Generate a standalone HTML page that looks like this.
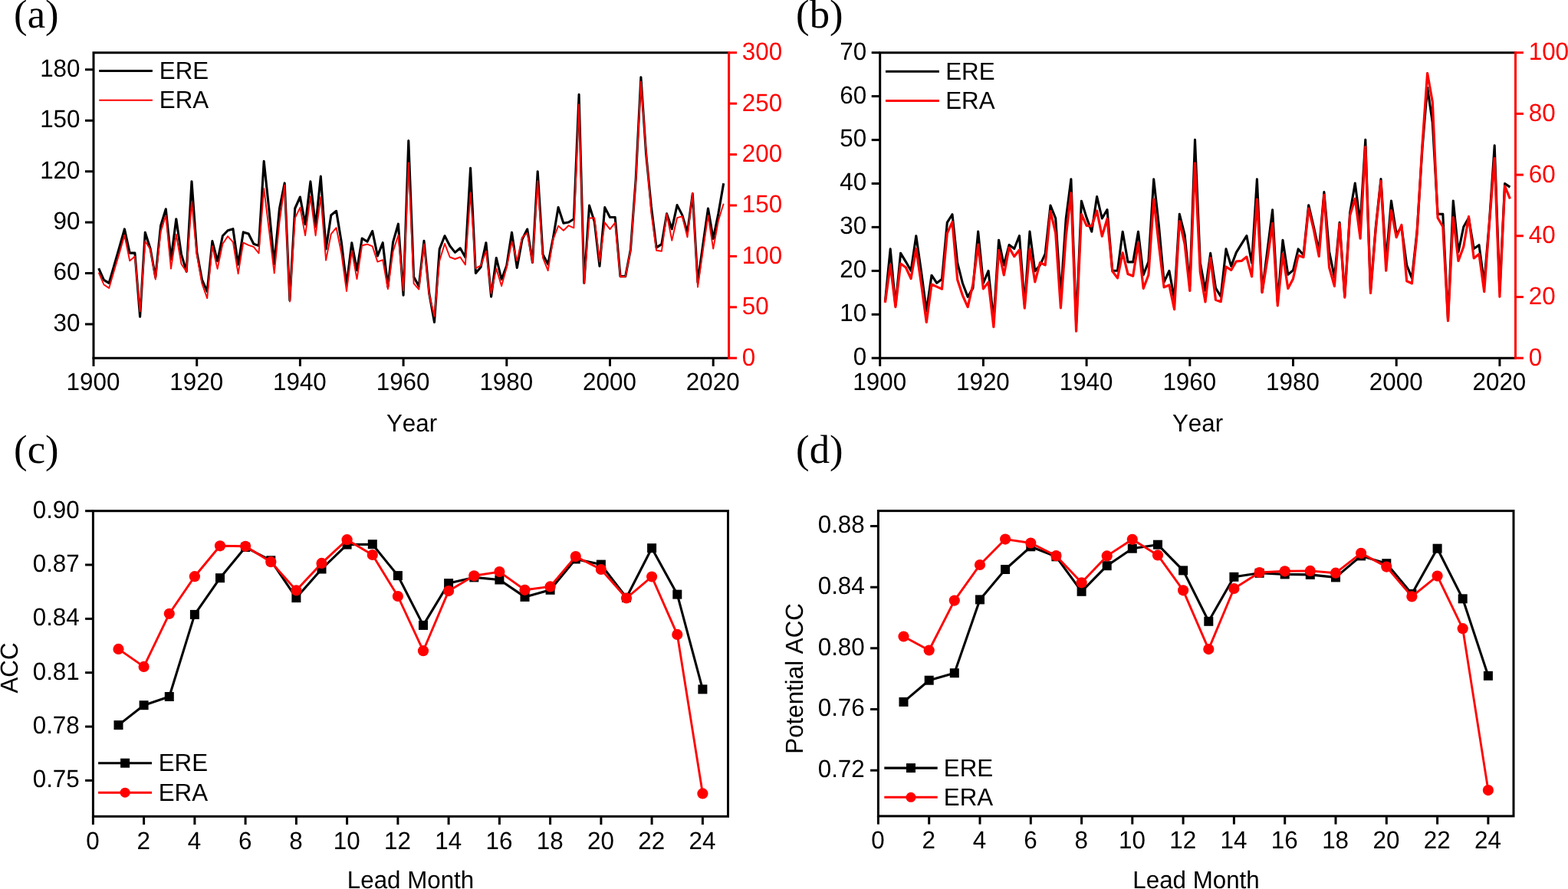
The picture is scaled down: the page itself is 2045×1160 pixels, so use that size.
<!DOCTYPE html>
<html lang="en">
<head>
<meta charset="utf-8">
<title>ERE and ERA time series and ACC skill by lead month</title>
<style>
html,body{margin:0;padding:0;background:#fff;}
body{width:2045px;height:1160px;overflow:hidden;}
svg{display:block;}
text{font-kerning:none;text-rendering:geometricPrecision;}
.t{font-family:"Liberation Sans",Arial,Helvetica,sans-serif;font-size:31.4px;}
.u{font-family:"Liberation Sans",Arial,Helvetica,sans-serif;font-size:31.3px;}
.p{font-family:"Liberation Serif","Times New Roman",Times,serif;font-size:52.7px;}
</style>
</head>
<body>
<svg width="2045" height="1160" viewBox="0 0 2045 1160">
<rect width="2045" height="1160" fill="#fff"/>
<g id="panel-a">
<polyline points="128.7,350.2 135.5,365.3 142.2,369.3 148.9,346.1 155.7,322.8 162.4,298.9 169.2,330.1 175.9,330.1 182.6,413.3 189.3,303.3 196.1,324.5 202.8,361.9 209.6,294.5 216.3,272.8 223,338.5 229.8,285.7 236.5,331.9 243.2,354.3 250,236.7 256.7,328.9 263.4,364.9 270.2,380.3 276.9,314.6 283.6,340.7 290.4,307.8 297.1,300.8 303.9,298.7 310.6,345.1 317.3,302.9 324.1,305 330.8,318.3 337.5,320.6 344.2,210.4 351,274.5 357.7,344.5 364.5,272 371.2,238.9 377.9,392 384.7,272 391.4,257 398.1,292.7 404.9,236.9 411.6,295.7 418.3,230.1 425.1,324.9 431.8,280.8 438.6,275.3 445.3,315.9 452,372 458.8,316.8 465.5,352.7 472.2,311 479,315.3 485.7,301.5 492.4,333.9 499.2,316.7 505.9,374.3 512.6,315.9 519.4,292.2 526.1,385.3 532.8,183.6 539.6,361.2 546.3,373.5 553,314.2 559.8,383.3 566.5,420.4 573.2,325.1 580,307.8 586.7,320.8 593.5,329.4 600.2,323.8 606.9,335.7 613.6,219.4 620.4,356.4 627.1,348.4 633.9,316.7 640.6,387.1 647.3,336.5 654.1,364.5 660.8,346.5 667.5,303.2 674.3,349.4 681,312.4 687.7,299 694.5,342.4 701.2,223.7 708,332 714.7,344.8 721.4,310.5 728.1,270.6 734.9,291.2 741.6,290 748.4,285.7 755.1,123.4 761.8,369.3 768.6,268.1 775.3,289.4 782,347.3 788.8,270.6 795.5,283.5 802.2,283.5 809,360.6 815.7,360.6 822.4,325.8 829.2,234 835.9,100.7 842.6,200.5 849.4,270 856.1,323.1 862.9,318.6 869.6,278.9 876.3,298.8 883.1,267.6 889.8,280.6 896.5,303.4 903.3,252.9 910,368.5 916.7,320 923.5,272 930.2,311.4 936.9,278.6 943.7,239.3" fill="none" stroke="#000" stroke-width="3.1" stroke-linejoin="round"/>
<polyline points="128.7,355.6 135.5,371.5 142.2,375.9 148.9,353.2 155.7,330.4 162.4,307 169.2,340.4 175.9,334.5 182.6,406.4 189.3,314.8 196.1,325.3 202.8,364.6 209.6,302.5 216.3,281.3 223,350.6 229.8,306 236.5,344.4 243.2,354.6 250,263.6 256.7,331.9 263.4,370 270.2,389.1 276.9,321.2 283.6,350.9 290.4,318.3 297.1,308.3 303.9,315.8 310.6,357.2 317.3,316.6 324.1,319.9 330.8,322.2 337.5,330.5 344.2,245.9 351,301.2 357.7,356.5 364.5,290 371.2,241.6 377.9,393.5 384.7,284.6 391.4,270.9 398.1,307.4 404.9,256.3 411.6,307.5 418.3,256.9 425.1,339.6 431.8,305.3 438.6,297.2 445.3,330.6 452,380 458.8,327.3 465.5,364.1 472.2,320.2 479,318.7 485.7,321.4 492.4,341.6 499.2,339.2 505.9,377.2 512.6,328.2 519.4,307 526.1,379.1 532.8,212.4 539.6,369.8 546.3,377.6 553,318.5 559.8,384.5 566.5,412.7 573.2,340.4 580,317.9 586.7,335.5 593.5,338 600.2,335.5 606.9,345.4 613.6,251.6 620.4,350 627.1,346.3 633.9,327.7 640.6,382.7 647.3,350.4 654.1,373.3 660.8,349 667.5,315.2 674.3,340.2 681,309.7 687.7,304 694.5,342.7 701.2,236.3 708,336.3 714.7,353.1 721.4,312.5 728.1,294.8 734.9,300.7 741.6,294.3 748.4,297.3 755.1,136.1 761.8,369.6 768.6,284.5 775.3,284.5 782,341.5 788.8,290.3 795.5,299.1 802.2,290.6 809,361.2 815.7,360.8 822.4,326.8 829.2,236 835.9,106.4 842.6,197.5 849.4,278 856.1,326.8 862.9,327.8 869.6,279.1 876.3,313.7 883.1,284.2 889.8,282.3 896.5,309.5 903.3,251.6 910,374.6 916.7,327.9 923.5,281.1 930.2,324.6 936.9,288 943.7,265.8" fill="none" stroke="#ff0000" stroke-width="1.9" stroke-linejoin="round"/>
<polyline points="122,467.2 122,68.7 950.6,68.7" fill="none" stroke="#000" stroke-width="3.0" stroke-linejoin="miter"/>
<line x1="120.5" y1="467.2" x2="950.6" y2="467.2" stroke="#000" stroke-width="3.0" stroke-linecap="butt"/>
<line x1="950.6" y1="67.2" x2="950.6" y2="468.8" stroke="#ff0000" stroke-width="3.0" stroke-linecap="butt"/>
<line x1="122" y1="467.2" x2="122" y2="477.9" stroke="#000" stroke-width="3.0" stroke-linecap="butt"/>
<text class="t" text-anchor="middle" transform="translate(121.5 509.45) scale(1 1.025)">1900</text>
<line x1="256.7" y1="467.2" x2="256.7" y2="477.9" stroke="#000" stroke-width="3.0" stroke-linecap="butt"/>
<text class="t" text-anchor="middle" transform="translate(256.2 509.45) scale(1 1.025)">1920</text>
<line x1="391.4" y1="467.2" x2="391.4" y2="477.9" stroke="#000" stroke-width="3.0" stroke-linecap="butt"/>
<text class="t" text-anchor="middle" transform="translate(390.9 509.45) scale(1 1.025)">1940</text>
<line x1="526.1" y1="467.2" x2="526.1" y2="477.9" stroke="#000" stroke-width="3.0" stroke-linecap="butt"/>
<text class="t" text-anchor="middle" transform="translate(525.6 509.45) scale(1 1.025)">1960</text>
<line x1="660.8" y1="467.2" x2="660.8" y2="477.9" stroke="#000" stroke-width="3.0" stroke-linecap="butt"/>
<text class="t" text-anchor="middle" transform="translate(660.3 509.45) scale(1 1.025)">1980</text>
<line x1="795.5" y1="467.2" x2="795.5" y2="477.9" stroke="#000" stroke-width="3.0" stroke-linecap="butt"/>
<text class="t" text-anchor="middle" transform="translate(795 509.45) scale(1 1.025)">2000</text>
<line x1="930.2" y1="467.2" x2="930.2" y2="477.9" stroke="#000" stroke-width="3.0" stroke-linecap="butt"/>
<text class="t" text-anchor="middle" transform="translate(929.7 509.45) scale(1 1.025)">2020</text>
<line x1="111" y1="423" x2="122" y2="423" stroke="#000" stroke-width="3.0" stroke-linecap="butt"/>
<text class="t" text-anchor="end" transform="translate(104.5 431.87) scale(1 1.025)">30</text>
<line x1="111" y1="356.5" x2="122" y2="356.5" stroke="#000" stroke-width="3.0" stroke-linecap="butt"/>
<text class="t" text-anchor="end" transform="translate(104.5 365.44) scale(1 1.025)">60</text>
<line x1="111" y1="290.1" x2="122" y2="290.1" stroke="#000" stroke-width="3.0" stroke-linecap="butt"/>
<text class="t" text-anchor="end" transform="translate(104.5 299.02) scale(1 1.025)">90</text>
<line x1="111" y1="223.7" x2="122" y2="223.7" stroke="#000" stroke-width="3.0" stroke-linecap="butt"/>
<text class="t" text-anchor="end" transform="translate(104.5 232.59) scale(1 1.025)">120</text>
<line x1="111" y1="157.3" x2="122" y2="157.3" stroke="#000" stroke-width="3.0" stroke-linecap="butt"/>
<text class="t" text-anchor="end" transform="translate(104.5 166.17) scale(1 1.025)">150</text>
<line x1="111" y1="90.8" x2="122" y2="90.8" stroke="#000" stroke-width="3.0" stroke-linecap="butt"/>
<text class="t" text-anchor="end" transform="translate(104.5 99.74) scale(1 1.025)">180</text>
<line x1="950.6" y1="467.2" x2="961" y2="467.2" stroke="#ff0000" stroke-width="3.0" stroke-linecap="butt"/>
<text class="t" text-anchor="start" fill="#ff0000" transform="translate(967.8 476.65) scale(1 1.025)">0</text>
<line x1="950.6" y1="400.8" x2="961" y2="400.8" stroke="#ff0000" stroke-width="3.0" stroke-linecap="butt"/>
<text class="t" text-anchor="start" fill="#ff0000" transform="translate(967.8 410.22) scale(1 1.025)">50</text>
<line x1="950.6" y1="334.4" x2="961" y2="334.4" stroke="#ff0000" stroke-width="3.0" stroke-linecap="butt"/>
<text class="t" text-anchor="start" fill="#ff0000" transform="translate(967.8 343.8) scale(1 1.025)">100</text>
<line x1="950.6" y1="268" x2="961" y2="268" stroke="#ff0000" stroke-width="3.0" stroke-linecap="butt"/>
<text class="t" text-anchor="start" fill="#ff0000" transform="translate(967.8 277.38) scale(1 1.025)">150</text>
<line x1="950.6" y1="201.6" x2="961" y2="201.6" stroke="#ff0000" stroke-width="3.0" stroke-linecap="butt"/>
<text class="t" text-anchor="start" fill="#ff0000" transform="translate(967.8 210.95) scale(1 1.025)">200</text>
<line x1="950.6" y1="135.1" x2="961" y2="135.1" stroke="#ff0000" stroke-width="3.0" stroke-linecap="butt"/>
<text class="t" text-anchor="start" fill="#ff0000" transform="translate(967.8 144.53) scale(1 1.025)">250</text>
<line x1="950.6" y1="68.7" x2="961" y2="68.7" stroke="#ff0000" stroke-width="3.0" stroke-linecap="butt"/>
<text class="t" text-anchor="start" fill="#ff0000" transform="translate(967.8 78.1) scale(1 1.025)">300</text>
<text class="p" x="18.1" y="35.8" text-anchor="start">(a)</text>
<text class="u" text-anchor="middle" transform="translate(537 563.2) scale(1 1.025)">Year</text>
<line x1="129.2" y1="92.5" x2="198.9" y2="92.5" stroke="#000" stroke-width="3.0" stroke-linecap="butt"/>
<line x1="129.2" y1="130.8" x2="198.9" y2="130.8" stroke="#ff0000" stroke-width="1.9" stroke-linecap="butt"/>
<text class="u" text-anchor="start" transform="translate(207.8 103.1) scale(1 1.025)">ERE</text>
<text class="u" text-anchor="start" transform="translate(207.8 141.4) scale(1 1.025)">ERA</text>
</g>
<g id="panel-b">
<polyline points="1154.4,393.5 1161.2,324.9 1167.9,398.7 1174.6,330.4 1181.4,341.6 1188.1,353.3 1194.8,307.7 1201.6,355 1208.3,405.7 1215,359.2 1221.8,369.3 1228.5,364.3 1235.3,290.4 1242,279.7 1248.7,342.8 1255.5,369.8 1262.2,387.4 1268.9,375.9 1275.7,302.1 1282.4,369.3 1289.1,353.4 1295.9,418.2 1302.6,313.3 1309.3,346 1316.1,319.6 1322.8,324.5 1329.5,307.6 1336.3,397.4 1343,302.1 1349.8,353.8 1356.5,345.9 1363.2,331.2 1370,268.1 1376.7,284.9 1383.4,386.4 1390.2,285.5 1396.9,233.8 1403.6,422.3 1410.4,262.3 1417.1,283.9 1423.8,302.2 1430.6,256.5 1437.3,285 1444,273.6 1450.8,353.3 1457.5,353.3 1464.2,302.2 1471,341.9 1477.7,341.9 1484.5,302.2 1491.2,358.7 1497.9,341.6 1504.7,233.8 1511.4,294.1 1518.1,368 1524.9,353.4 1531.6,390.1 1538.3,279.4 1545.1,306.5 1551.8,372.7 1558.5,182.4 1565.3,342.8 1572,379.1 1578.7,330.4 1585.5,375.9 1592.2,387 1599,324.9 1605.7,347.3 1612.4,329.4 1619.2,318.4 1625.9,307.6 1632.6,343.2 1639.4,233.8 1646.1,380.9 1652.8,327.7 1659.6,273.9 1666.3,393.8 1673,313.3 1679.8,358.3 1686.5,352.6 1693.2,324.9 1700,332.8 1706.7,267.7 1713.4,296 1720.2,327 1726.9,250.6 1733.6,328.2 1740.4,361.9 1747.1,290.4 1753.8,386.4 1760.6,278 1767.3,239 1774.1,291.9 1780.8,182.4 1787.5,379.1 1794.3,296 1801,233.5 1807.7,341.1 1814.5,262.1 1821.2,305.4 1827.9,296.3 1834.7,346.2 1841.4,362.9 1848.1,302 1854.9,195 1861.6,114.2 1868.3,160 1875.1,279.4 1881.8,279.4 1888.5,416.6 1895.3,262 1902,328.7 1908.8,296.1 1915.5,284.3 1922.2,324.6 1929,319.7 1935.7,369.5 1942.4,290 1949.2,189.8 1955.9,379.3 1962.6,239.6 1969.4,244.1" fill="none" stroke="#000" stroke-width="3.1" stroke-linejoin="round"/>
<polyline points="1154.4,394.9 1161.2,345.7 1167.9,400.6 1174.6,344 1181.4,349 1188.1,363.6 1194.8,324.7 1201.6,371 1208.3,420.5 1215,371 1221.8,374.1 1228.5,377.1 1235.3,304.4 1242,289.7 1248.7,364.9 1255.5,385.7 1262.2,400.6 1268.9,371 1275.7,319.2 1282.4,376.9 1289.1,368.1 1295.9,426.7 1302.6,326.7 1309.3,359 1316.1,323.1 1322.8,334.7 1329.5,326.1 1336.3,402.1 1343,324.9 1349.8,367.8 1356.5,342.7 1363.2,345.9 1370,275.6 1376.7,303.9 1383.4,401.8 1390.2,308.5 1396.9,251.9 1403.6,432.2 1410.4,279.5 1417.1,294.3 1423.8,295.1 1430.6,275.1 1437.3,308.3 1444,285.5 1450.8,353.9 1457.5,362.9 1464.2,329.8 1471,357.5 1477.7,360.2 1484.5,316.9 1491.2,376.4 1497.9,358.8 1504.7,259.8 1511.4,319.7 1518.1,374.9 1524.9,372 1531.6,403.7 1538.3,288.5 1545.1,318.4 1551.8,379.5 1558.5,212.8 1565.3,355.1 1572,393.9 1578.7,336.5 1585.5,391.2 1592.2,393.7 1599,348 1605.7,352.4 1612.4,341 1619.2,340.4 1625.9,335.1 1632.6,360.8 1639.4,260.1 1646.1,381.6 1652.8,339.2 1659.6,291.6 1666.3,398.8 1673,331.6 1679.8,376.4 1686.5,363.7 1693.2,333.3 1700,335.7 1706.7,272 1713.4,300 1720.2,334.5 1726.9,254.3 1733.6,349 1740.4,373.4 1747.1,292.2 1753.8,388.1 1760.6,281.4 1767.3,259.4 1774.1,311.2 1780.8,191.7 1787.5,382.5 1794.3,298.7 1801,236.3 1807.7,353.1 1814.5,274.5 1821.2,309.7 1827.9,293.5 1834.7,366.8 1841.4,369.8 1848.1,305 1854.9,190 1861.6,95.5 1868.3,133.1 1875.1,284.3 1881.8,295.7 1888.5,418.6 1895.3,283.6 1902,340.5 1908.8,322 1915.5,282.7 1922.2,336.9 1929,331.4 1935.7,380.6 1942.4,292 1949.2,206.5 1955.9,387.1 1962.6,242.9 1969.4,259.3" fill="none" stroke="#ff0000" stroke-width="3.2" stroke-linejoin="round"/>
<polyline points="1147.7,467.2 1147.7,68.7 1976.5,68.7" fill="none" stroke="#000" stroke-width="3.0" stroke-linejoin="miter"/>
<line x1="1146.2" y1="467.2" x2="1976.5" y2="467.2" stroke="#000" stroke-width="3.0" stroke-linecap="butt"/>
<line x1="1976.5" y1="67.2" x2="1976.5" y2="468.8" stroke="#ff0000" stroke-width="3.0" stroke-linecap="butt"/>
<line x1="1147.7" y1="467.2" x2="1147.7" y2="477.9" stroke="#000" stroke-width="3.0" stroke-linecap="butt"/>
<text class="t" text-anchor="middle" transform="translate(1147.2 509.45) scale(1 1.025)">1900</text>
<line x1="1282.4" y1="467.2" x2="1282.4" y2="477.9" stroke="#000" stroke-width="3.0" stroke-linecap="butt"/>
<text class="t" text-anchor="middle" transform="translate(1281.9 509.45) scale(1 1.025)">1920</text>
<line x1="1417.1" y1="467.2" x2="1417.1" y2="477.9" stroke="#000" stroke-width="3.0" stroke-linecap="butt"/>
<text class="t" text-anchor="middle" transform="translate(1416.6 509.45) scale(1 1.025)">1940</text>
<line x1="1551.8" y1="467.2" x2="1551.8" y2="477.9" stroke="#000" stroke-width="3.0" stroke-linecap="butt"/>
<text class="t" text-anchor="middle" transform="translate(1551.3 509.45) scale(1 1.025)">1960</text>
<line x1="1686.5" y1="467.2" x2="1686.5" y2="477.9" stroke="#000" stroke-width="3.0" stroke-linecap="butt"/>
<text class="t" text-anchor="middle" transform="translate(1686 509.45) scale(1 1.025)">1980</text>
<line x1="1821.2" y1="467.2" x2="1821.2" y2="477.9" stroke="#000" stroke-width="3.0" stroke-linecap="butt"/>
<text class="t" text-anchor="middle" transform="translate(1820.7 509.45) scale(1 1.025)">2000</text>
<line x1="1955.9" y1="467.2" x2="1955.9" y2="477.9" stroke="#000" stroke-width="3.0" stroke-linecap="butt"/>
<text class="t" text-anchor="middle" transform="translate(1955.4 509.45) scale(1 1.025)">2020</text>
<line x1="1136.7" y1="467.2" x2="1147.7" y2="467.2" stroke="#000" stroke-width="3.0" stroke-linecap="butt"/>
<text class="t" text-anchor="end" transform="translate(1130.2 476.15) scale(1 1.025)">0</text>
<line x1="1136.7" y1="410.3" x2="1147.7" y2="410.3" stroke="#000" stroke-width="3.0" stroke-linecap="butt"/>
<text class="t" text-anchor="end" transform="translate(1130.2 419.21) scale(1 1.025)">10</text>
<line x1="1136.7" y1="353.4" x2="1147.7" y2="353.4" stroke="#000" stroke-width="3.0" stroke-linecap="butt"/>
<text class="t" text-anchor="end" transform="translate(1130.2 362.28) scale(1 1.025)">20</text>
<line x1="1136.7" y1="296.4" x2="1147.7" y2="296.4" stroke="#000" stroke-width="3.0" stroke-linecap="butt"/>
<text class="t" text-anchor="end" transform="translate(1130.2 305.34) scale(1 1.025)">30</text>
<line x1="1136.7" y1="239.5" x2="1147.7" y2="239.5" stroke="#000" stroke-width="3.0" stroke-linecap="butt"/>
<text class="t" text-anchor="end" transform="translate(1130.2 248.41) scale(1 1.025)">40</text>
<line x1="1136.7" y1="182.6" x2="1147.7" y2="182.6" stroke="#000" stroke-width="3.0" stroke-linecap="butt"/>
<text class="t" text-anchor="end" transform="translate(1130.2 191.47) scale(1 1.025)">50</text>
<line x1="1136.7" y1="125.6" x2="1147.7" y2="125.6" stroke="#000" stroke-width="3.0" stroke-linecap="butt"/>
<text class="t" text-anchor="end" transform="translate(1130.2 134.54) scale(1 1.025)">60</text>
<line x1="1136.7" y1="68.7" x2="1147.7" y2="68.7" stroke="#000" stroke-width="3.0" stroke-linecap="butt"/>
<text class="t" text-anchor="end" transform="translate(1130.2 77.6) scale(1 1.025)">70</text>
<line x1="1976.5" y1="467.2" x2="1986.9" y2="467.2" stroke="#ff0000" stroke-width="3.0" stroke-linecap="butt"/>
<text class="t" text-anchor="start" fill="#ff0000" transform="translate(1993.7 476.65) scale(1 1.025)">0</text>
<line x1="1976.5" y1="387.5" x2="1986.9" y2="387.5" stroke="#ff0000" stroke-width="3.0" stroke-linecap="butt"/>
<text class="t" text-anchor="start" fill="#ff0000" transform="translate(1993.7 396.94) scale(1 1.025)">20</text>
<line x1="1976.5" y1="307.8" x2="1986.9" y2="307.8" stroke="#ff0000" stroke-width="3.0" stroke-linecap="butt"/>
<text class="t" text-anchor="start" fill="#ff0000" transform="translate(1993.7 317.23) scale(1 1.025)">40</text>
<line x1="1976.5" y1="228.1" x2="1986.9" y2="228.1" stroke="#ff0000" stroke-width="3.0" stroke-linecap="butt"/>
<text class="t" text-anchor="start" fill="#ff0000" transform="translate(1993.7 237.52) scale(1 1.025)">60</text>
<line x1="1976.5" y1="148.4" x2="1986.9" y2="148.4" stroke="#ff0000" stroke-width="3.0" stroke-linecap="butt"/>
<text class="t" text-anchor="start" fill="#ff0000" transform="translate(1993.7 157.81) scale(1 1.025)">80</text>
<line x1="1976.5" y1="68.7" x2="1986.9" y2="68.7" stroke="#ff0000" stroke-width="3.0" stroke-linecap="butt"/>
<text class="t" text-anchor="start" fill="#ff0000" transform="translate(1993.7 78.1) scale(1 1.025)">100</text>
<text class="p" x="1038.1" y="35.8" text-anchor="start">(b)</text>
<text class="u" text-anchor="middle" transform="translate(1562 563.2) scale(1 1.025)">Year</text>
<line x1="1155" y1="93.2" x2="1224.9" y2="93.2" stroke="#000" stroke-width="3.0" stroke-linecap="butt"/>
<line x1="1155" y1="131.5" x2="1224.9" y2="131.5" stroke="#ff0000" stroke-width="3.2" stroke-linecap="butt"/>
<text class="u" text-anchor="start" transform="translate(1233.2 103.8) scale(1 1.025)">ERE</text>
<text class="u" text-anchor="start" transform="translate(1233.2 142.1) scale(1 1.025)">ERA</text>
</g>
<g id="panel-c">
<polyline points="154.5,946.1 187.6,920.2 220.8,909 253.9,801.9 287,754.2 320.1,714 353.3,731.3 386.4,780.1 419.5,742.5 452.6,710.6 485.8,710.2 518.9,751.1 552,815.9 585.1,761.1 618.3,753.4 651.4,756.5 684.5,778.9 717.6,769.8 750.8,729.5 783.9,736.6 817,779.8 850.1,715.2 883.3,775.6 916.4,899.4" fill="none" stroke="#000" stroke-width="3.1" stroke-linejoin="round"/>
<rect x="148.5" y="940.1" width="12" height="12" fill="#000"/>
<rect x="181.6" y="914.2" width="12" height="12" fill="#000"/>
<rect x="214.8" y="903" width="12" height="12" fill="#000"/>
<rect x="247.9" y="795.9" width="12" height="12" fill="#000"/>
<rect x="281" y="748.2" width="12" height="12" fill="#000"/>
<rect x="314.1" y="708" width="12" height="12" fill="#000"/>
<rect x="347.3" y="725.3" width="12" height="12" fill="#000"/>
<rect x="380.4" y="774.1" width="12" height="12" fill="#000"/>
<rect x="413.5" y="736.5" width="12" height="12" fill="#000"/>
<rect x="446.6" y="704.6" width="12" height="12" fill="#000"/>
<rect x="479.8" y="704.2" width="12" height="12" fill="#000"/>
<rect x="512.9" y="745.1" width="12" height="12" fill="#000"/>
<rect x="546" y="809.9" width="12" height="12" fill="#000"/>
<rect x="579.1" y="755.1" width="12" height="12" fill="#000"/>
<rect x="612.3" y="747.4" width="12" height="12" fill="#000"/>
<rect x="645.4" y="750.5" width="12" height="12" fill="#000"/>
<rect x="678.5" y="772.9" width="12" height="12" fill="#000"/>
<rect x="711.6" y="763.8" width="12" height="12" fill="#000"/>
<rect x="744.8" y="723.5" width="12" height="12" fill="#000"/>
<rect x="777.9" y="730.6" width="12" height="12" fill="#000"/>
<rect x="811" y="773.8" width="12" height="12" fill="#000"/>
<rect x="844.1" y="709.2" width="12" height="12" fill="#000"/>
<rect x="877.3" y="769.6" width="12" height="12" fill="#000"/>
<rect x="910.4" y="893.4" width="12" height="12" fill="#000"/>
<polyline points="154.5,846.9 187.6,869.9 220.8,800.8 253.9,752.2 287,712.3 320.1,712.8 353.3,733.2 386.4,770.3 419.5,734.9 452.6,704.2 485.8,724 518.9,778 552,849.2 585.1,771.1 618.3,751.3 651.4,746.1 684.5,769.8 717.6,765.4 750.8,726.1 783.9,743 817,780.5 850.1,752.5 883.3,827.9 916.4,1035.4" fill="none" stroke="#ff0000" stroke-width="2.9" stroke-linejoin="round"/>
<circle cx="154.5" cy="846.9" r="7.1" fill="#ff0000"/>
<circle cx="187.6" cy="869.9" r="7.1" fill="#ff0000"/>
<circle cx="220.8" cy="800.8" r="7.1" fill="#ff0000"/>
<circle cx="253.9" cy="752.2" r="7.1" fill="#ff0000"/>
<circle cx="287" cy="712.3" r="7.1" fill="#ff0000"/>
<circle cx="320.1" cy="712.8" r="7.1" fill="#ff0000"/>
<circle cx="353.3" cy="733.2" r="7.1" fill="#ff0000"/>
<circle cx="386.4" cy="770.3" r="7.1" fill="#ff0000"/>
<circle cx="419.5" cy="734.9" r="7.1" fill="#ff0000"/>
<circle cx="452.6" cy="704.2" r="7.1" fill="#ff0000"/>
<circle cx="485.8" cy="724" r="7.1" fill="#ff0000"/>
<circle cx="518.9" cy="778" r="7.1" fill="#ff0000"/>
<circle cx="552" cy="849.2" r="7.1" fill="#ff0000"/>
<circle cx="585.1" cy="771.1" r="7.1" fill="#ff0000"/>
<circle cx="618.3" cy="751.3" r="7.1" fill="#ff0000"/>
<circle cx="651.4" cy="746.1" r="7.1" fill="#ff0000"/>
<circle cx="684.5" cy="769.8" r="7.1" fill="#ff0000"/>
<circle cx="717.6" cy="765.4" r="7.1" fill="#ff0000"/>
<circle cx="750.8" cy="726.1" r="7.1" fill="#ff0000"/>
<circle cx="783.9" cy="743" r="7.1" fill="#ff0000"/>
<circle cx="817" cy="780.5" r="7.1" fill="#ff0000"/>
<circle cx="850.1" cy="752.5" r="7.1" fill="#ff0000"/>
<circle cx="883.3" cy="827.9" r="7.1" fill="#ff0000"/>
<circle cx="916.4" cy="1035.4" r="7.1" fill="#ff0000"/>
<rect x="121.4" y="666.7" width="828.1" height="398.6" fill="none" stroke="#000" stroke-width="3.0"/>
<line x1="121.4" y1="1065.3" x2="121.4" y2="1076" stroke="#000" stroke-width="3.0" stroke-linecap="butt"/>
<text class="t" text-anchor="middle" transform="translate(121 1107.5) scale(1 1.025)">0</text>
<line x1="187.6" y1="1065.3" x2="187.6" y2="1076" stroke="#000" stroke-width="3.0" stroke-linecap="butt"/>
<text class="t" text-anchor="middle" transform="translate(187.25 1107.5) scale(1 1.025)">2</text>
<line x1="253.9" y1="1065.3" x2="253.9" y2="1076" stroke="#000" stroke-width="3.0" stroke-linecap="butt"/>
<text class="t" text-anchor="middle" transform="translate(253.5 1107.5) scale(1 1.025)">4</text>
<line x1="320.1" y1="1065.3" x2="320.1" y2="1076" stroke="#000" stroke-width="3.0" stroke-linecap="butt"/>
<text class="t" text-anchor="middle" transform="translate(319.74 1107.5) scale(1 1.025)">6</text>
<line x1="386.4" y1="1065.3" x2="386.4" y2="1076" stroke="#000" stroke-width="3.0" stroke-linecap="butt"/>
<text class="t" text-anchor="middle" transform="translate(385.99 1107.5) scale(1 1.025)">8</text>
<line x1="452.6" y1="1065.3" x2="452.6" y2="1076" stroke="#000" stroke-width="3.0" stroke-linecap="butt"/>
<text class="t" text-anchor="middle" transform="translate(452.24 1107.5) scale(1 1.025)">10</text>
<line x1="518.9" y1="1065.3" x2="518.9" y2="1076" stroke="#000" stroke-width="3.0" stroke-linecap="butt"/>
<text class="t" text-anchor="middle" transform="translate(518.49 1107.5) scale(1 1.025)">12</text>
<line x1="585.1" y1="1065.3" x2="585.1" y2="1076" stroke="#000" stroke-width="3.0" stroke-linecap="butt"/>
<text class="t" text-anchor="middle" transform="translate(584.74 1107.5) scale(1 1.025)">14</text>
<line x1="651.4" y1="1065.3" x2="651.4" y2="1076" stroke="#000" stroke-width="3.0" stroke-linecap="butt"/>
<text class="t" text-anchor="middle" transform="translate(650.98 1107.5) scale(1 1.025)">16</text>
<line x1="717.6" y1="1065.3" x2="717.6" y2="1076" stroke="#000" stroke-width="3.0" stroke-linecap="butt"/>
<text class="t" text-anchor="middle" transform="translate(717.23 1107.5) scale(1 1.025)">18</text>
<line x1="783.9" y1="1065.3" x2="783.9" y2="1076" stroke="#000" stroke-width="3.0" stroke-linecap="butt"/>
<text class="t" text-anchor="middle" transform="translate(783.48 1107.5) scale(1 1.025)">20</text>
<line x1="850.1" y1="1065.3" x2="850.1" y2="1076" stroke="#000" stroke-width="3.0" stroke-linecap="butt"/>
<text class="t" text-anchor="middle" transform="translate(849.73 1107.5) scale(1 1.025)">22</text>
<line x1="916.4" y1="1065.3" x2="916.4" y2="1076" stroke="#000" stroke-width="3.0" stroke-linecap="butt"/>
<text class="t" text-anchor="middle" transform="translate(915.98 1107.5) scale(1 1.025)">24</text>
<line x1="111.1" y1="1018.4" x2="121.4" y2="1018.4" stroke="#000" stroke-width="3.0" stroke-linecap="butt"/>
<text class="t" text-anchor="end" transform="translate(103.8 1027.21) scale(1 1.025)">0.75</text>
<line x1="111.1" y1="948.1" x2="121.4" y2="948.1" stroke="#000" stroke-width="3.0" stroke-linecap="butt"/>
<text class="t" text-anchor="end" transform="translate(103.8 956.86) scale(1 1.025)">0.78</text>
<line x1="111.1" y1="877.7" x2="121.4" y2="877.7" stroke="#000" stroke-width="3.0" stroke-linecap="butt"/>
<text class="t" text-anchor="end" transform="translate(103.8 886.52) scale(1 1.025)">0.81</text>
<line x1="111.1" y1="807.4" x2="121.4" y2="807.4" stroke="#000" stroke-width="3.0" stroke-linecap="butt"/>
<text class="t" text-anchor="end" transform="translate(103.8 816.18) scale(1 1.025)">0.84</text>
<line x1="111.1" y1="737" x2="121.4" y2="737" stroke="#000" stroke-width="3.0" stroke-linecap="butt"/>
<text class="t" text-anchor="end" transform="translate(103.8 745.84) scale(1 1.025)">0.87</text>
<line x1="111.1" y1="666.7" x2="121.4" y2="666.7" stroke="#000" stroke-width="3.0" stroke-linecap="butt"/>
<text class="t" text-anchor="end" transform="translate(103.8 675.5) scale(1 1.025)">0.90</text>
<text class="p" x="18.1" y="604" text-anchor="start">(c)</text>
<text class="u" text-anchor="middle" transform="translate(23 871.5) rotate(-90) scale(1 1.025)">ACC</text>
<text class="u" text-anchor="middle" transform="translate(535.5 1158.8) scale(1 1.025)">Lead Month</text>
<line x1="128.1" y1="995.7" x2="198" y2="995.7" stroke="#000" stroke-width="3.1" stroke-linecap="butt"/>
<rect x="157.1" y="989.7" width="12" height="12" fill="#000"/>
<line x1="128.1" y1="1034.2" x2="198" y2="1034.2" stroke="#ff0000" stroke-width="2.9" stroke-linecap="butt"/>
<circle cx="163.1" cy="1034.2" r="6.5" fill="#ff0000"/>
<text class="u" text-anchor="start" transform="translate(206.7 1006.3) scale(1 1.025)">ERE</text>
<text class="u" text-anchor="start" transform="translate(206.7 1044.8) scale(1 1.025)">ERA</text>
</g>
<g id="panel-d">
<polyline points="1178.5,915.9 1211.7,887.7 1244.8,878.2 1278,782.4 1311.1,743 1344.3,713.3 1377.4,726.3 1410.6,771.8 1443.7,738.2 1476.8,715.7 1510,710.7 1543.1,744.4 1576.3,810.8 1609.4,752.8 1642.6,747.8 1675.7,749.4 1708.8,749.9 1742,753.4 1775.1,725.4 1808.3,735.2 1841.4,774.9 1874.6,715.7 1907.7,781.3 1940.9,881.8" fill="none" stroke="#000" stroke-width="3.1" stroke-linejoin="round"/>
<rect x="1172.5" y="909.9" width="12" height="12" fill="#000"/>
<rect x="1205.7" y="881.7" width="12" height="12" fill="#000"/>
<rect x="1238.8" y="872.2" width="12" height="12" fill="#000"/>
<rect x="1272" y="776.4" width="12" height="12" fill="#000"/>
<rect x="1305.1" y="737" width="12" height="12" fill="#000"/>
<rect x="1338.3" y="707.3" width="12" height="12" fill="#000"/>
<rect x="1371.4" y="720.3" width="12" height="12" fill="#000"/>
<rect x="1404.6" y="765.8" width="12" height="12" fill="#000"/>
<rect x="1437.7" y="732.2" width="12" height="12" fill="#000"/>
<rect x="1470.8" y="709.7" width="12" height="12" fill="#000"/>
<rect x="1504" y="704.7" width="12" height="12" fill="#000"/>
<rect x="1537.1" y="738.4" width="12" height="12" fill="#000"/>
<rect x="1570.3" y="804.8" width="12" height="12" fill="#000"/>
<rect x="1603.4" y="746.8" width="12" height="12" fill="#000"/>
<rect x="1636.6" y="741.8" width="12" height="12" fill="#000"/>
<rect x="1669.7" y="743.4" width="12" height="12" fill="#000"/>
<rect x="1702.8" y="743.9" width="12" height="12" fill="#000"/>
<rect x="1736" y="747.4" width="12" height="12" fill="#000"/>
<rect x="1769.1" y="719.4" width="12" height="12" fill="#000"/>
<rect x="1802.3" y="729.2" width="12" height="12" fill="#000"/>
<rect x="1835.4" y="768.9" width="12" height="12" fill="#000"/>
<rect x="1868.6" y="709.7" width="12" height="12" fill="#000"/>
<rect x="1901.7" y="775.3" width="12" height="12" fill="#000"/>
<rect x="1934.9" y="875.8" width="12" height="12" fill="#000"/>
<polyline points="1178.5,830.5 1211.7,848.5 1244.8,783.6 1278,737 1311.1,703.6 1344.3,708.5 1377.4,725.2 1410.6,760.3 1443.7,725.4 1476.8,703.8 1510,724.4 1543.1,770.3 1576.3,847.1 1609.4,768 1642.6,747 1675.7,745.3 1708.8,744.9 1742,747.7 1775.1,721.8 1808.3,739.6 1841.4,778.4 1874.6,751.6 1907.7,820.2 1940.9,1031.1" fill="none" stroke="#ff0000" stroke-width="2.9" stroke-linejoin="round"/>
<circle cx="1178.5" cy="830.5" r="7.1" fill="#ff0000"/>
<circle cx="1211.7" cy="848.5" r="7.1" fill="#ff0000"/>
<circle cx="1244.8" cy="783.6" r="7.1" fill="#ff0000"/>
<circle cx="1278" cy="737" r="7.1" fill="#ff0000"/>
<circle cx="1311.1" cy="703.6" r="7.1" fill="#ff0000"/>
<circle cx="1344.3" cy="708.5" r="7.1" fill="#ff0000"/>
<circle cx="1377.4" cy="725.2" r="7.1" fill="#ff0000"/>
<circle cx="1410.6" cy="760.3" r="7.1" fill="#ff0000"/>
<circle cx="1443.7" cy="725.4" r="7.1" fill="#ff0000"/>
<circle cx="1476.8" cy="703.8" r="7.1" fill="#ff0000"/>
<circle cx="1510" cy="724.4" r="7.1" fill="#ff0000"/>
<circle cx="1543.1" cy="770.3" r="7.1" fill="#ff0000"/>
<circle cx="1576.3" cy="847.1" r="7.1" fill="#ff0000"/>
<circle cx="1609.4" cy="768" r="7.1" fill="#ff0000"/>
<circle cx="1642.6" cy="747" r="7.1" fill="#ff0000"/>
<circle cx="1675.7" cy="745.3" r="7.1" fill="#ff0000"/>
<circle cx="1708.8" cy="744.9" r="7.1" fill="#ff0000"/>
<circle cx="1742" cy="747.7" r="7.1" fill="#ff0000"/>
<circle cx="1775.1" cy="721.8" r="7.1" fill="#ff0000"/>
<circle cx="1808.3" cy="739.6" r="7.1" fill="#ff0000"/>
<circle cx="1841.4" cy="778.4" r="7.1" fill="#ff0000"/>
<circle cx="1874.6" cy="751.6" r="7.1" fill="#ff0000"/>
<circle cx="1907.7" cy="820.2" r="7.1" fill="#ff0000"/>
<circle cx="1940.9" cy="1031.1" r="7.1" fill="#ff0000"/>
<rect x="1145.4" y="666.6" width="828.6" height="398.3" fill="none" stroke="#000" stroke-width="3.0"/>
<line x1="1145.4" y1="1064.9" x2="1145.4" y2="1075.6" stroke="#000" stroke-width="3.0" stroke-linecap="butt"/>
<text class="t" text-anchor="middle" transform="translate(1145 1107.1) scale(1 1.025)">0</text>
<line x1="1211.7" y1="1064.9" x2="1211.7" y2="1075.6" stroke="#000" stroke-width="3.0" stroke-linecap="butt"/>
<text class="t" text-anchor="middle" transform="translate(1211.29 1107.1) scale(1 1.025)">2</text>
<line x1="1278" y1="1064.9" x2="1278" y2="1075.6" stroke="#000" stroke-width="3.0" stroke-linecap="butt"/>
<text class="t" text-anchor="middle" transform="translate(1277.58 1107.1) scale(1 1.025)">4</text>
<line x1="1344.3" y1="1064.9" x2="1344.3" y2="1075.6" stroke="#000" stroke-width="3.0" stroke-linecap="butt"/>
<text class="t" text-anchor="middle" transform="translate(1343.86 1107.1) scale(1 1.025)">6</text>
<line x1="1410.6" y1="1064.9" x2="1410.6" y2="1075.6" stroke="#000" stroke-width="3.0" stroke-linecap="butt"/>
<text class="t" text-anchor="middle" transform="translate(1410.15 1107.1) scale(1 1.025)">8</text>
<line x1="1476.8" y1="1064.9" x2="1476.8" y2="1075.6" stroke="#000" stroke-width="3.0" stroke-linecap="butt"/>
<text class="t" text-anchor="middle" transform="translate(1476.44 1107.1) scale(1 1.025)">10</text>
<line x1="1543.1" y1="1064.9" x2="1543.1" y2="1075.6" stroke="#000" stroke-width="3.0" stroke-linecap="butt"/>
<text class="t" text-anchor="middle" transform="translate(1542.73 1107.1) scale(1 1.025)">12</text>
<line x1="1609.4" y1="1064.9" x2="1609.4" y2="1075.6" stroke="#000" stroke-width="3.0" stroke-linecap="butt"/>
<text class="t" text-anchor="middle" transform="translate(1609.02 1107.1) scale(1 1.025)">14</text>
<line x1="1675.7" y1="1064.9" x2="1675.7" y2="1075.6" stroke="#000" stroke-width="3.0" stroke-linecap="butt"/>
<text class="t" text-anchor="middle" transform="translate(1675.3 1107.1) scale(1 1.025)">16</text>
<line x1="1742" y1="1064.9" x2="1742" y2="1075.6" stroke="#000" stroke-width="3.0" stroke-linecap="butt"/>
<text class="t" text-anchor="middle" transform="translate(1741.59 1107.1) scale(1 1.025)">18</text>
<line x1="1808.3" y1="1064.9" x2="1808.3" y2="1075.6" stroke="#000" stroke-width="3.0" stroke-linecap="butt"/>
<text class="t" text-anchor="middle" transform="translate(1807.88 1107.1) scale(1 1.025)">20</text>
<line x1="1874.6" y1="1064.9" x2="1874.6" y2="1075.6" stroke="#000" stroke-width="3.0" stroke-linecap="butt"/>
<text class="t" text-anchor="middle" transform="translate(1874.17 1107.1) scale(1 1.025)">22</text>
<line x1="1940.9" y1="1064.9" x2="1940.9" y2="1075.6" stroke="#000" stroke-width="3.0" stroke-linecap="butt"/>
<text class="t" text-anchor="middle" transform="translate(1940.46 1107.1) scale(1 1.025)">24</text>
<line x1="1135.1" y1="1005.2" x2="1145.4" y2="1005.2" stroke="#000" stroke-width="3.0" stroke-linecap="butt"/>
<text class="t" text-anchor="end" transform="translate(1127.8 1013.96) scale(1 1.025)">0.72</text>
<line x1="1135.1" y1="925.5" x2="1145.4" y2="925.5" stroke="#000" stroke-width="3.0" stroke-linecap="butt"/>
<text class="t" text-anchor="end" transform="translate(1127.8 934.3) scale(1 1.025)">0.76</text>
<line x1="1135.1" y1="845.8" x2="1145.4" y2="845.8" stroke="#000" stroke-width="3.0" stroke-linecap="butt"/>
<text class="t" text-anchor="end" transform="translate(1127.8 854.63) scale(1 1.025)">0.80</text>
<line x1="1135.1" y1="766.2" x2="1145.4" y2="766.2" stroke="#000" stroke-width="3.0" stroke-linecap="butt"/>
<text class="t" text-anchor="end" transform="translate(1127.8 774.98) scale(1 1.025)">0.84</text>
<line x1="1135.1" y1="686.5" x2="1145.4" y2="686.5" stroke="#000" stroke-width="3.0" stroke-linecap="butt"/>
<text class="t" text-anchor="end" transform="translate(1127.8 695.31) scale(1 1.025)">0.88</text>
<text class="p" x="1038.1" y="604" text-anchor="start">(d)</text>
<text class="u" text-anchor="middle" transform="translate(1046.9 885.4) rotate(-90) scale(1 1.025)">Potential ACC</text>
<text class="u" text-anchor="middle" transform="translate(1560 1158.8) scale(1 1.025)">Lead Month</text>
<line x1="1153.3" y1="1002.1" x2="1222.7" y2="1002.1" stroke="#000" stroke-width="3.1" stroke-linecap="butt"/>
<rect x="1182" y="996.1" width="12" height="12" fill="#000"/>
<line x1="1153.3" y1="1040.3" x2="1222.7" y2="1040.3" stroke="#ff0000" stroke-width="2.9" stroke-linecap="butt"/>
<circle cx="1188" cy="1040.3" r="6.5" fill="#ff0000"/>
<text class="u" text-anchor="start" transform="translate(1230.8 1012.7) scale(1 1.025)">ERE</text>
<text class="u" text-anchor="start" transform="translate(1230.8 1050.9) scale(1 1.025)">ERA</text>
</g>
</svg>
</body>
</html>
